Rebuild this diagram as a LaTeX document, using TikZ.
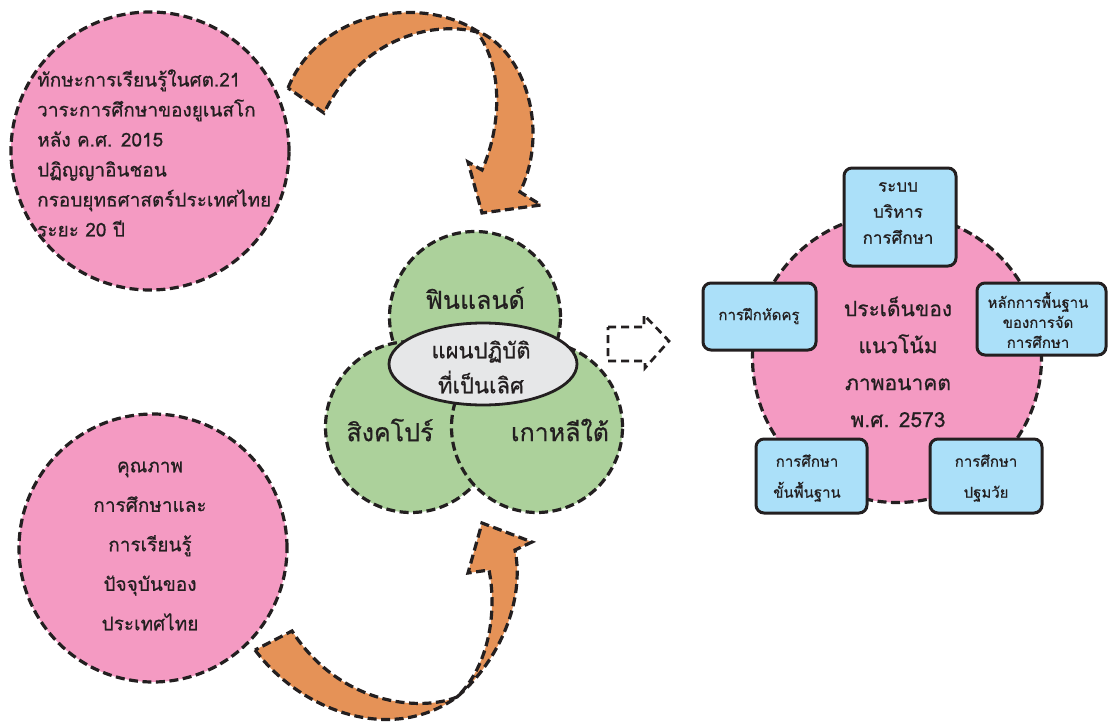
\documentclass[tikz,border=0pt]{standalone}
\usepackage{fontspec}
\newfontfamily\thai[Script=Thai,FakeBold=0.6]{Loma}
\usetikzlibrary{shapes.geometric}
\definecolor{dk}{HTML}{231F20}
\definecolor{pinkf}{HTML}{F49AC2}
\definecolor{greenf}{HTML}{ACD19B}
\definecolor{orangef}{HTML}{E59257}
\definecolor{bluef}{HTML}{ABE0F9}
\definecolor{grayf}{HTML}{E6E7E8}
\begin{document}
\begin{tikzpicture}[x=1pt,y=-1pt,
  dsh/.style={draw=dk, line width=3.2pt, dash pattern=on 9pt off 4.5pt},
  txt/.style={text=dk, inner sep=0pt, align=center},
  tf/.style 2 args={font=\thai\fontsize{#1pt}{#2pt}\selectfont},
  pinkcirc/.style={circle, fill=pinkf, dsh, inner sep=0pt},
  venn/.style={circle, fill=greenf, dsh, minimum size=171pt, inner sep=0pt},
  bluebox/.style={rectangle, rounded corners=8pt, fill=bluef, draw=dk, line width=3pt, inner sep=0pt},
  orangearrow/.style={fill=orangef, dsh, line join=miter}
]
\useasboundingbox (0,0) rectangle (1113,725);

% left circles
\node[pinkcirc, minimum size=278pt] (c1) at (150,151) {};
\node[txt, align=left, tf={19}{30}, anchor=west] (t1) at (37,153) {ทักษะการเรียนรู้ในศต.21\\วาระการศึกษาของยูเนสโก\\หลัง ค.ศ. 2015\\ปฏิญญาอินชอน\\กรอบยุทธศาสตร์ประเทศไทย\\ระยะ 20 ปี};

\node[pinkcirc, minimum size=268pt] (c2) at (153,548) {};
\node[txt, tf={19}{39.5}] (t2) at (150,546) {คุณภาพ\\การศึกษาและ\\การเรียนรู้\\ปัจจุบันของ\\ประเทศไทย};

% orange curved arrows
\draw[orangearrow] (288,88) .. controls (320,10) and (420,-5) .. (477,31)
  .. controls (525,50) and (550,130) .. (520,192)
  -- (541,205) -- (482,213) -- (468,162) -- (482,170)
  .. controls (500,130) and (505,70) .. (477,32)
  .. controls (430,20) and (360,40) .. (324,113) -- cycle;

\draw[orangearrow] (255,650) .. controls (300,710) and (390,745) .. (457,697)
  .. controls (500,660) and (525,600) .. (515,550)
  -- (532,542) -- (482,523) -- (468,573) -- (489,570)
  .. controls (497,610) and (490,665) .. (457,697)
  .. controls (420,712) and (340,705) .. (292,631) -- cycle;

% venn
\node[venn] (fi) at (475,317) {};
\node[venn] (sg) at (411,427) {};
\node[venn] (kr) at (537,427) {};
\node[txt, tf={25}{30}] (fit) at (475,298) {ฟินแลนด์};
\node[txt, tf={25}{30}] (sgt) at (390,430) {สิงคโปร์};
\node[txt, tf={25}{30}] (krt) at (560,430) {เกาหลีใต้};
\node[ellipse, fill=grayf, draw=dk, line width=2.8pt, minimum width=188pt, minimum height=82pt, inner sep=0pt] (el) at (483,364) {};
\node[txt, tf={22}{35}] (elt) at (481,367) {แผนปฏิบัติ\\ที่เป็นเลิศ};

% hollow dashed arrow
\draw[draw=dk, line width=2.7pt, dash pattern=on 8pt off 5pt, line join=miter]
  (608,327) -- (644,327) -- (644,315) -- (669,341) -- (645,368) -- (645,361) -- (608,361) -- cycle;

% right
\node[pinkcirc, minimum size=289pt] (c3) at (897,358) {};
\node[txt, tf={21}{37}] (ct) at (898,362) {ประเด็นของ\\แนวโน้ม\\ภาพอนาคต\\พ.ศ. 2573};

\node[bluebox, minimum width=112pt, minimum height=98pt] (b1) at (900,217) {};
\node[txt, tf={17}{26}] (b1t) at (898,213) {ระบบ\\บริหาร\\การศึกษา};

\node[bluebox, minimum width=113pt, minimum height=67pt] (b2) at (759.5,316.5) {};
\node[txt, tf={15}{20}] (b2t) at (759,316) {การฝึกหัดครู};

\node[bluebox, minimum width=129pt, minimum height=72pt] (b3) at (1041.5,319) {};
\node[txt, tf={15}{20}] (b3t) at (1038,320) {หลักการพื้นฐาน\\ของการจัด\\การศึกษา};

\node[bluebox, minimum width=111pt, minimum height=74pt] (b4) at (811.5,476) {};
\node[txt, tf={15}{31}] (b4t) at (807,478) {การศึกษา\\ขั้นพื้นฐาน};

\node[bluebox, minimum width=112pt, minimum height=74pt] (b5) at (986,476) {};
\node[txt, tf={15}{31}] (b5t) at (986,478) {การศึกษา\\ปฐมวัย};
\end{tikzpicture}
\end{document}
